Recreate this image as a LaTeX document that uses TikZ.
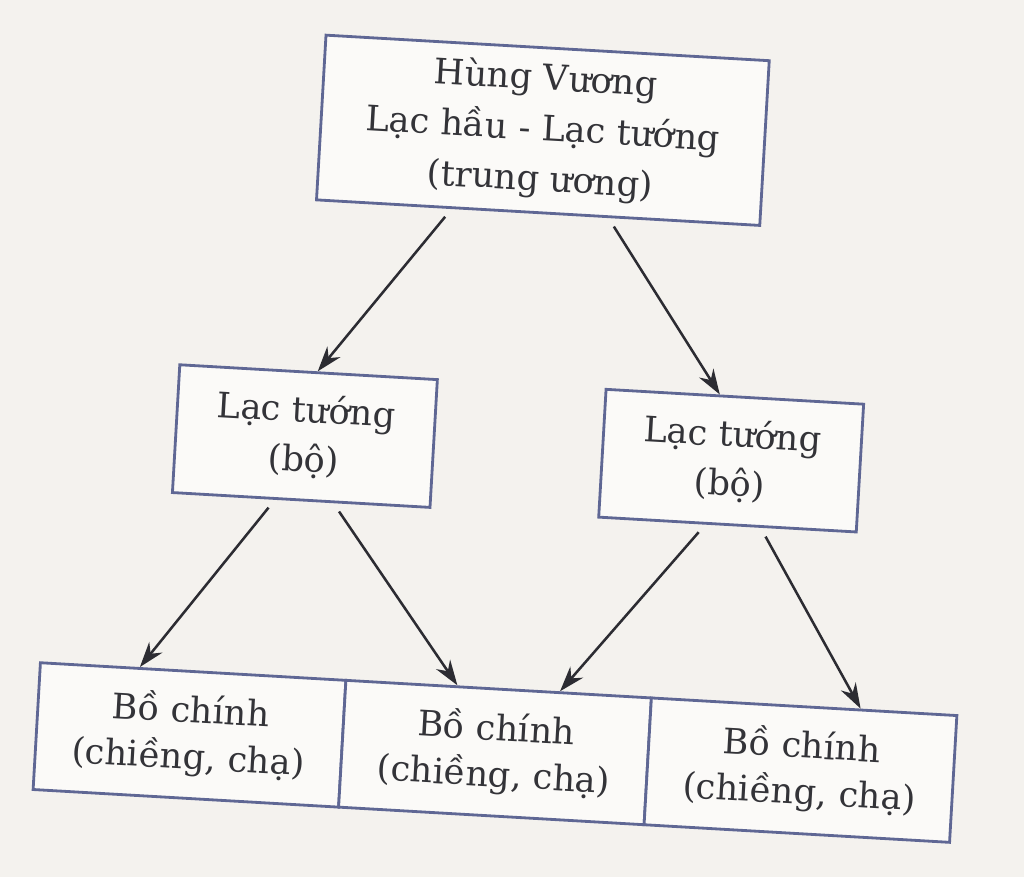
\documentclass[tikz,border=0pt]{standalone}
\usepackage{fontspec}
\setmainfont{DejaVu Serif}
\usepackage{tikz}
\usetikzlibrary{calc}
\usetikzlibrary{arrows.meta}

\definecolor{paper}{HTML}{F4F2EE}
\definecolor{boxline}{HTML}{5F6794}
\definecolor{ink}{HTML}{333338}
\definecolor{arrowink}{HTML}{2C2C32}

\begin{document}
\begin{tikzpicture}[
    level/.style={shape=rectangle, draw=boxline, line width=2pt, fill=white!60!paper,
        text=ink, align=center, inner sep=0pt,
        font=\fontsize{25}{33}\selectfont},
    link/.style={draw=arrowink, line width=1.8pt, -{Stealth[length=18pt, width=12pt]},
        shorten <=0.25cm}]

    \path[use as bounding box, fill=paper] (0,0) rectangle (25.6,-21.925);

    \begin{scope}[rotate around={-3.3:(12.8,-11)}, transform shape]

        \node[level, minimum width=11.1cm, minimum height=4.125cm, font=\fontsize{25}{36}\selectfont] (king) at (13.125,-3.225)
            {Hùng Vương\\Lạc hầu - Lạc tướng\\(trung ương)};

        \node[level, minimum width=6.45cm, minimum height=3.2cm, font=\fontsize{25}{35}\selectfont] (left) at (7.625,-11.2)
            {Lạc tướng\\(bộ)};
        \node[level, minimum width=6.45cm, minimum height=3.2cm, font=\fontsize{25}{35}\selectfont] (right) at (18.3,-11.2)
            {Lạc tướng\\(bộ)};

        \node[level, minimum width=7.65cm, minimum height=3.175cm] (v1) at (5.175,-18.825)
            {Bồ chính\\(chiềng, chạ)};
        \node[level, minimum width=7.65cm, minimum height=3.175cm] (v2) at (12.825,-18.825)
            {Bồ chính\\(chiềng, chạ)};
        \node[level, minimum width=7.65cm, minimum height=3.175cm] (v3) at (20.475,-18.825)
            {Bồ chính\\(chiềng, chạ)};

        \draw[link] ($(king.south west)!0.306!(king.south east)$) -- ($(left.north west)!0.535!(left.north east)$);
        \draw[link] ($(king.south west)!0.658!(king.south east)$) -- ($(right.north west)!0.442!(right.north east)$);
        \draw[link] ($(left.south west)!0.399!(left.south east)$) -- ($(v1.north west)!0.327!(v1.north east)$);
        \draw[link] ($(left.south west)!0.624!(left.south east)$) -- ($(v2.north west)!0.366!(v2.north east)$);
        \draw[link] ($(right.south west)!0.415!(right.south east)$) -- ($(v2.north west)!0.699!(v2.north east)$);
        \draw[link] ($(right.south west)!0.628!(right.south east)$) -- ($(v3.north west)!0.683!(v3.north east)$);

    \end{scope}

\end{tikzpicture}
\end{document}
